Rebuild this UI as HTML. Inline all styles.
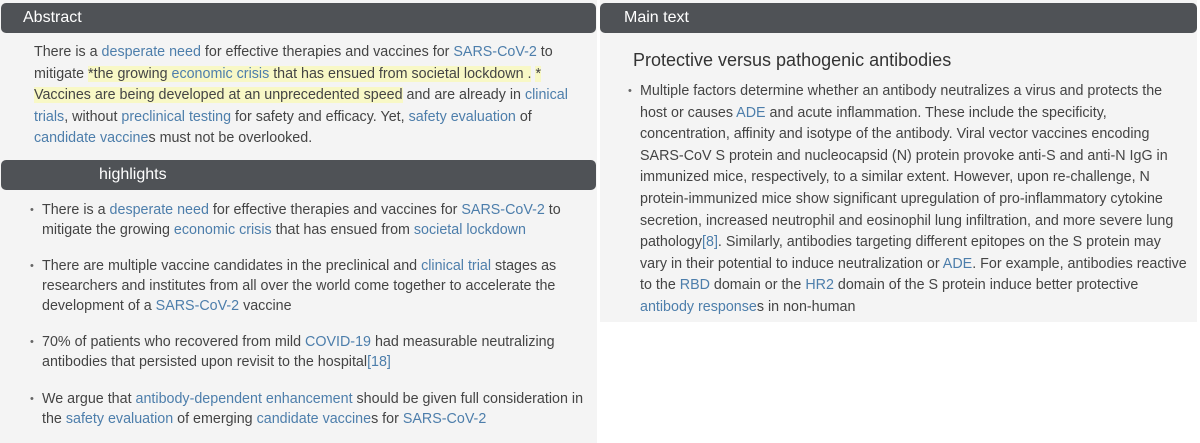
<!DOCTYPE html>
<html><head><meta charset="utf-8"><style>
body{margin:0;width:1200px;height:443px;background:#fff;font-family:"Liberation Sans",sans-serif;color:#444;overflow:hidden;position:relative}
.panel{position:absolute;background:#f4f4f4}
.hdr{position:absolute;background:#4f5256;color:#fff;border-radius:5px;font-size:16px;height:30px;line-height:30px}
.l{color:#4d7eab}
.hl{background:#f8f8c6}
.txt{position:absolute;font-size:14.3px;line-height:21.6px;white-space:nowrap}
ul{margin:0;padding:0;list-style:none}
li{position:relative;padding-left:12px}
li:before{content:"\2022";position:absolute;left:0;color:#666;font-size:11px}
</style></head><body>
<div class="panel" style="left:0;top:0;width:597px;height:443px"></div>
<div class="panel" style="left:600px;top:0;width:597px;height:322px"></div>
<div class="hdr" style="left:1px;top:3px;width:518px;padding-left:22px;width:496px;width:573px">Abstract</div>
<div class="txt" style="left:34px;top:42px">
There is a <span class="l">desperate need</span> for effective therapies and vaccines for <span class="l">SARS-CoV-2</span> to<br>
mitigate <span class="hl">*the growing <span class="l">economic crisis</span> that has ensued from societal lockdown .</span> <span class="hl">*</span><br>
<span class="hl">Vaccines are being developed at an unprecedented speed</span> and are already in <span class="l">clinical</span><br>
<span class="l">trials</span>, without <span class="l">preclinical testing</span> for safety and efficacy. Yet, <span class="l">safety evaluation</span> of<br>
<span class="l">candidate vaccine</span>s must not be overlooked.</div>
<div class="hdr" style="left:1px;top:160px;width:497px;padding-left:98px">highlights</div>
<div class="txt" style="left:30px;top:200px;line-height:20px">
<ul>
<li style="margin-bottom:16px">There is a <span class="l">desperate need</span> for effective therapies and vaccines for <span class="l">SARS-CoV-2</span> to<br>mitigate the growing <span class="l">economic crisis</span> that has ensued from <span class="l">societal lockdown</span></li>
<li style="margin-bottom:16px">There are multiple vaccine candidates in the preclinical and <span class="l">clinical trial</span> stages as<br>researchers and institutes from all over the world come together to accelerate the<br>development of a <span class="l">SARS-CoV-2</span> vaccine</li>
<li style="margin-bottom:17px">70% of patients who recovered from mild <span class="l">COVID-19</span> had measurable neutralizing<br>antibodies that persisted upon revisit to the hospital<span class="l">[18]</span></li>
<li>We argue that <span class="l">antibody-dependent enhancement</span> should be given full consideration in<br>the <span class="l">safety evaluation</span> of emerging <span class="l">candidate vaccine</span>s for <span class="l">SARS-CoV-2</span></li>
</ul></div>
<div class="hdr" style="left:600px;top:3px;width:573px;padding-left:24px">Main text</div>
<div class="txt" style="left:633px;top:50px;font-size:18px;color:#333">Protective versus pathogenic antibodies</div>
<div class="txt" style="left:628px;top:81px">
<ul><li>Multiple factors determine whether an antibody neutralizes a virus and protects the<br>
host or causes <span class="l">ADE</span> and acute inflammation. These include the specificity,<br>
concentration, affinity and isotype of the antibody. Viral vector vaccines encoding<br>
SARS-CoV S protein and nucleocapsid (N) protein provoke anti-S and anti-N IgG in<br>
immunized mice, respectively, to a similar extent. However, upon re-challenge, N<br>
protein-immunized mice show significant upregulation of pro-inflammatory cytokine<br>
secretion, increased neutrophil and eosinophil lung infiltration, and more severe lung<br>
pathology<span class="l">[8]</span>. Similarly, antibodies targeting different epitopes on the S protein may<br>
vary in their potential to induce neutralization or <span class="l">ADE</span>. For example, antibodies reactive<br>
to the <span class="l">RBD</span> domain or the <span class="l">HR2</span> domain of the S protein induce better protective<br>
<span class="l">antibody response</span>s in non-human</li></ul></div>
</body></html>
